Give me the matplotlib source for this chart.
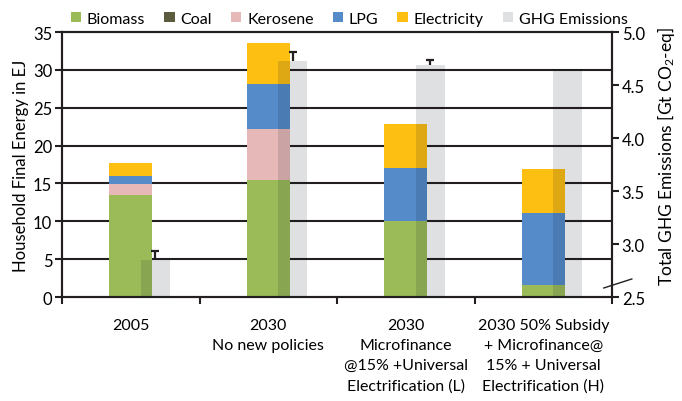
import matplotlib
matplotlib.use("Agg")
import matplotlib.pyplot as plt
from matplotlib.patches import Patch
import numpy as np

plt.rcParams['font.family'] = ['Lato', 'DejaVu Sans']
plt.rcParams['mathtext.fontset'] = 'custom'
plt.rcParams['mathtext.rm'] = 'Lato'
plt.rcParams['mathtext.it'] = 'Lato:italic'

# Household final energy by fuel (EJ)
scenarios = ["2005",
             "2030\nNo new policies",
             "2030\nMicrofinance\n@15% +Universal\nElectrification (L)",
             "2030 50% Subsidy\n+ Microfinance@\n15% + Universal\nElectrification (H)"]
biomass = [13.5, 15.5, 10.0, 1.6]
coal = [0.0, 0.0, 0.0, 0.0]
kerosene = [1.4, 6.7, 0.1, 0.0]
lpg = [1.1, 5.9, 7.0, 9.5]
electricity = [1.7, 5.5, 5.8, 5.8]

# Total GHG emissions (Gt CO2-eq) with upper uncertainty
ghg = [2.85, 4.73, 4.69, 4.65]
ghg_err = [0.085, 0.08, 0.05, 0.0]

fuels = [("Biomass", biomass, "#9bbb59"),
         ("Coal", coal, "#5c5b3e"),
         ("Kerosene", kerosene, "#e6b9b8"),
         ("LPG", lpg, "#558bc9"),
         ("Electricity", electricity, "#fcbf12")]
ghg_color = (0.06, 0.08, 0.14)
ghg_alpha = 0.13
ink = '#231f20'

fig = plt.figure(figsize=(6.82, 4.02), dpi=100)
ax = fig.add_axes([0.0909, 0.2587, 0.8065, 0.6592])
ax2 = ax.twinx()

x = np.arange(len(scenarios))
bar_w = 0.31
ghg_w = 0.21
ghg_off = 0.178

bottom = np.zeros(len(x))
for name, vals, col in fuels:
    ax.bar(x, vals, bar_w, bottom=bottom, color=col, zorder=2, linewidth=0)
    bottom += np.array(vals)

ax.set_ylim(0, 35)
ax.set_yticks(range(0, 36, 5))
ax.set_xlim(-0.5, len(x) - 0.5)
ax.set_xticks(x)
ax.set_xticklabels(scenarios, fontsize=11.5, linespacing=1.55)
ax.set_xticks(np.arange(-0.5, len(x), 1.0), minor=True)
ax.tick_params(axis='x', which='major', length=0, pad=15)
ax.tick_params(axis='x', which='minor', length=5, width=1.5, direction='out', color=ink)
ax.tick_params(axis='y', length=5, width=1.5, labelsize=12, pad=2, color=ink)
for v in range(5, 35, 5):
    ax.axhline(v, color=ink, lw=1.5, zorder=1)
for s in ax.spines.values():
    s.set_linewidth(1.5)
    s.set_color(ink)
ax.set_ylabel("Household Final Energy in EJ", fontsize=12, labelpad=3)

# GHG emission bars on the secondary axis
gx = x + ghg_off
ax2.bar(gx, np.array(ghg) - 2.5, ghg_w, bottom=2.5, color=ghg_color,
        alpha=ghg_alpha, zorder=3, linewidth=0)
# upper error whiskers only
for xi, top, err in zip(gx, ghg, ghg_err):
    if err > 0:
        ax2.vlines(xi, top, top + err, color=ink, lw=1.6, zorder=4)
        ax2.hlines(top + err, xi - 0.028, xi + 0.028, color=ink, lw=1.6, zorder=4)
ax2.set_ylim(2.5, 5.0)
ax2.set_yticks(np.arange(2.5, 5.01, 0.5))
ax2.set_yticklabels([f"{v:.1f}" for v in np.arange(2.5, 5.01, 0.5)])
ax2.tick_params(axis='y', length=5, width=1.5, labelsize=12, pad=2, color=ink)
for s in ax2.spines.values():
    s.set_linewidth(1.5)
    s.set_color(ink)
ax2.set_ylabel("Total GHG Emissions [Gt CO$_2$-eq]", fontsize=12.5, rotation=90)
ax2.yaxis.set_label_coords(1.079, 0.535)

# axis break mark on the right axis
ax2.plot([0.985, 1.036], [0.034, 0.068], transform=ax2.transAxes,
         color=ink, lw=1.0, clip_on=False, zorder=5)

handles = [Patch(facecolor=col, edgecolor='none', label=name) for name, _, col in fuels]
handles.append(Patch(facecolor=ghg_color, alpha=ghg_alpha, edgecolor='none', label="GHG Emissions"))
fig.legend(handles=handles, loc='center', bbox_to_anchor=(0.512, 0.951), ncol=6,
           frameon=False, fontsize=11.5, handlelength=0.65, handleheight=0.65,
           handletextpad=0.35, columnspacing=1.2, borderaxespad=0)

fig.savefig("out.png", dpi=100)
